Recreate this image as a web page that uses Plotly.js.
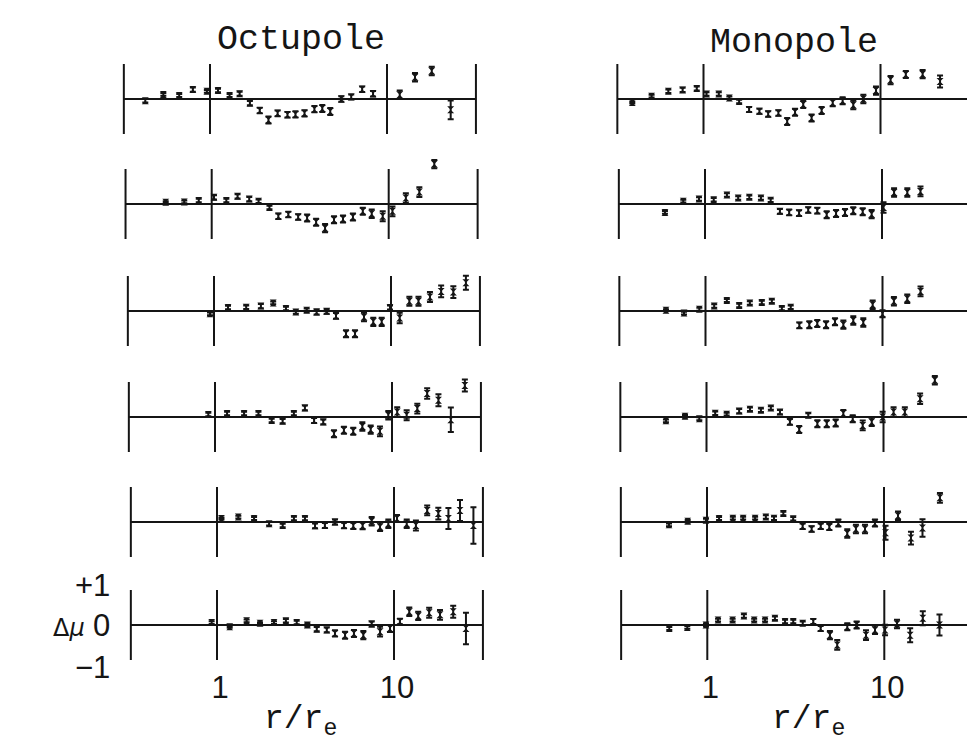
<!DOCTYPE html>
<html><head><meta charset="utf-8">
<script src="https://cdn.plot.ly/plotly-3.0.1.min.js"></script>
<style>html,body{margin:0;padding:0;background:#fff}</style>
</head><body><div id="chart" style="width:967px;height:744px"></div>
<script>
// ---------------- data (r/r_e , Δμ , error) ----------------
const oct1_r   = [0.431,0.545,0.67,0.80,0.96,1.11,1.29,1.47,1.68,1.91,2.14,2.41,2.74,3.04,3.42,3.89,4.31,4.78,5.52,6.28,7.24,8.34,11.8,14.4,17.9,22.9];
const oct1_dmu = [-0.05,0.13,0.1,0.27,0.22,0.24,0.1,0.15,-0.12,-0.33,-0.6,-0.41,-0.45,-0.44,-0.41,-0.29,-0.27,-0.36,0,0.06,0.28,0.15,0.12,0.62,0.8,-0.31];
const oct1_err = [0.05,0.04,0.04,0.06,0.04,0.05,0.04,0.06,0.06,0.08,0.1,0.08,0.08,0.09,0.09,0.09,0.1,0.1,0.08,0.07,0.08,0.08,0.12,0.12,0.12,0.27];

const oct2_r   = [0.55,0.70,0.845,1.03,1.21,1.40,1.63,1.84,2.12,2.38,2.71,3.08,3.46,3.89,4.37,4.91,5.52,6.28,7.14,8.02,9.25,10.5,12.5,14.9,18.1];
const oct2_dmu = [0.05,0.06,0.1,0.19,0.1,0.22,0.14,0.08,-0.1,-0.35,-0.3,-0.37,-0.4,-0.52,-0.69,-0.45,-0.43,-0.37,-0.21,-0.28,-0.35,-0.21,0.17,0.34,1.14];
const oct2_err = [0.03,0.04,0.05,0.06,0.05,0.06,0.06,0.05,0.05,0.08,0.08,0.08,0.1,0.1,0.12,0.1,0.1,0.1,0.1,0.12,0.14,0.14,0.14,0.14,0.12];

const oct3_r   = [0.949,1.20,1.52,1.84,2.16,2.55,2.90,3.34,3.80,4.33,4.89,5.57,6.26,7.04,7.94,8.86,9.87,11.2,12.7,14.3,16.6,19.2,22.5,26.5];
const oct3_dmu = [-0.08,0.1,0.11,0.14,0.23,0.07,-0.03,0.02,-0.03,-0.01,-0.14,-0.65,-0.65,-0.17,-0.31,-0.31,0.1,-0.2,0.28,0.28,0.4,0.56,0.54,0.81];
const oct3_err = [0.04,0.05,0.05,0.06,0.04,0.05,0.05,0.05,0.07,0.07,0.08,0.1,0.1,0.12,0.12,0.12,0.06,0.15,0.13,0.13,0.14,0.17,0.17,0.2];

const oct4_r   = [0.917,1.17,1.46,1.76,2.09,2.41,2.79,3.22,3.63,4.09,4.70,5.35,6.04,6.80,7.58,8.55,9.53,10.7,12.1,13.9,15.8,18.3,21.5,25.8];
const oct4_dmu = [0.07,0.1,0.1,0.1,-0.1,-0.12,0.1,0.26,-0.1,-0.14,-0.48,-0.38,-0.41,-0.27,-0.36,-0.41,0.05,0.14,0.05,0.24,0.67,0.48,-0.08,0.9];
const oct4_err = [0.05,0.05,0.05,0.05,0.05,0.06,0.05,0.07,0.07,0.07,0.1,0.1,0.1,0.12,0.12,0.14,0.12,0.14,0.14,0.14,0.15,0.17,0.35,0.17];

const oct5_r   = [1.06,1.32,1.62,1.97,2.35,2.72,3.14,3.58,4.07,4.64,5.22,5.89,6.65,7.48,8.34,9.29,10.4,11.8,13.3,15.4,17.8,20.3,23.6,28.1];
const oct5_dmu = [0.1,0.14,0.1,-0.05,-0.1,0.1,0.1,-0.11,-0.1,0,-0.1,-0.11,-0.11,0.02,-0.14,-0.05,0.1,-0.05,-0.1,0.33,0.24,0.1,0.33,-0.1];
const oct5_err = [0.03,0.04,0.04,0.05,0.05,0.05,0.05,0.07,0.07,0.07,0.08,0.09,0.1,0.12,0.12,0.12,0.1,0.12,0.14,0.14,0.17,0.3,0.3,0.52];

const oct6_r   = [0.933,1.18,1.47,1.75,2.10,2.45,2.82,3.24,3.66,4.17,4.64,5.29,5.94,6.71,7.48,8.34,9.49,10.8,12.2,13.7,15.8,18.2,21.6,25.5];
const oct6_dmu = [0.07,-0.05,0.12,0.05,0.07,0.12,0.07,0,-0.12,-0.14,-0.24,-0.29,-0.24,-0.29,0.03,-0.19,-0.1,0.1,0.38,0.26,0.35,0.29,0.38,-0.1];
const oct6_err = [0.04,0.03,0.04,0.03,0.04,0.05,0.05,0.05,0.06,0.07,0.09,0.1,0.1,0.12,0.07,0.14,0.1,0.08,0.12,0.12,0.14,0.14,0.17,0.45];

const mono1_r   = [0.396,0.509,0.633,0.762,0.916,1.04,1.22,1.40,1.59,1.81,2.07,2.32,2.65,2.97,3.29,3.66,4.08,4.65,5.37,6.11,7.02,8.0,9.43,11.4,13.9,17.3,21.7];
const mono1_dmu = [-0.1,0.08,0.22,0.26,0.3,0.14,0.14,0.03,-0.07,-0.3,-0.35,-0.43,-0.4,-0.64,-0.38,-0.16,-0.54,-0.33,-0.11,-0.05,-0.17,0,0.24,0.54,0.7,0.71,0.5];
const mono1_err = [0.03,0.04,0.05,0.06,0.06,0.05,0.05,0.04,0.05,0.07,0.07,0.08,0.08,0.1,0.1,0.1,0.1,0.1,0.1,0.1,0.12,0.12,0.12,0.12,0.1,0.12,0.17];

const mono2_r   = [0.594,0.754,0.925,1.12,1.33,1.54,1.78,2.07,2.35,2.65,2.99,3.40,3.83,4.31,4.87,5.50,6.18,6.88,7.78,8.74,10.2,11.7,13.9,16.5];
const mono2_dmu = [-0.24,0.08,0.14,0.12,0.26,0.17,0.19,0.17,0.11,-0.21,-0.24,-0.26,-0.17,-0.19,-0.31,-0.27,-0.24,-0.19,-0.22,-0.29,-0.1,0.33,0.33,0.36];
const mono2_err = [0.04,0.04,0.05,0.05,0.05,0.05,0.05,0.05,0.05,0.07,0.08,0.08,0.08,0.08,0.1,0.1,0.1,0.1,0.1,0.12,0.15,0.12,0.12,0.14];

const mono3_r   = [0.598,0.756,0.923,1.12,1.32,1.55,1.78,2.08,2.37,2.70,3.03,3.39,3.86,4.28,4.80,5.39,6.01,6.84,7.79,8.80,10.0,11.6,13.8,16.4];
const mono3_dmu = [0.02,-0.06,0.05,0.14,0.3,0.16,0.23,0.24,0.28,0.07,0.11,-0.41,-0.39,-0.36,-0.39,-0.31,-0.39,-0.27,-0.33,0.18,-0.08,0.28,0.35,0.56];
const mono3_err = [0.03,0.04,0.04,0.05,0.04,0.05,0.05,0.05,0.05,0.05,0.05,0.08,0.1,0.1,0.1,0.1,0.12,0.12,0.12,0.12,0.1,0.12,0.12,0.14];

const mono4_r   = [0.590,0.756,0.911,1.12,1.30,1.53,1.76,2.03,2.31,2.60,2.96,3.34,3.76,4.23,4.78,5.37,5.93,6.70,7.63,8.58,9.89,11.4,13.2,16.1,19.5];
const mono4_dmu = [-0.11,0.02,-0.05,0.11,0.08,0.17,0.22,0.19,0.26,0.14,-0.14,-0.36,0.05,-0.19,-0.19,-0.17,0.1,-0.05,-0.24,-0.14,0,0.14,0.14,0.52,1.05];
const mono4_err = [0.04,0.04,0.04,0.05,0.04,0.06,0.05,0.05,0.05,0.06,0.08,0.1,0.06,0.1,0.1,0.1,0.1,0.1,0.14,0.12,0.15,0.14,0.14,0.15,0.12];

const mono5_r   = [0.610,0.778,0.987,1.17,1.40,1.60,1.87,2.15,2.39,2.70,3.07,3.47,3.90,4.39,4.91,5.52,6.20,6.94,7.81,8.89,10.2,12.0,14.2,16.5,20.7];
const mono5_dmu = [-0.08,0.02,0.05,0.1,0.11,0.11,0.11,0.14,0.11,0.24,0.09,-0.12,-0.2,-0.12,-0.14,-0.03,-0.33,-0.2,-0.2,-0.03,-0.31,0.18,-0.46,-0.17,0.69];
const mono5_err = [0.04,0.04,0.04,0.04,0.04,0.04,0.04,0.05,0.05,0.05,0.05,0.08,0.08,0.08,0.09,0.1,0.12,0.12,0.12,0.1,0.2,0.12,0.18,0.25,0.14];

const mono6_r   = [0.610,0.771,0.983,1.15,1.39,1.61,1.84,2.12,2.41,2.75,3.06,3.46,3.97,4.37,4.93,5.42,6.18,6.98,7.88,8.86,10.1,11.8,14.0,16.5,20.5];
const mono6_dmu = [-0.1,-0.07,0,0.14,0.14,0.26,0.14,0.14,0.19,0.1,0.1,0.05,0.1,-0.1,-0.29,-0.57,-0.05,0,-0.29,-0.14,-0.14,0.03,-0.29,0.19,0];
const mono6_err = [0.04,0.04,0.04,0.04,0.04,0.05,0.04,0.04,0.05,0.05,0.05,0.05,0.07,0.07,0.12,0.14,0.1,0.1,0.14,0.12,0.15,0.12,0.2,0.2,0.3];

const columnTitles = ['Octupole', 'Monopole'];
const xTickVals = [1, 10];
const xTickText = ['1', '10'];
const yTickVals = [1, 0, -1];
const yTickText = ['+1', '0', '\u22121'];
const frameR = [1, 10];           // inner vertical rules at r/r_e = 1 and 10
const panelEdgeLo = 0.326;        // panel frame ends (r/r_e)
const panelEdgeHi = 31.8;
const xTitle = 'r/r<sub>e</sub>';
const yTitle = '\u0394<i>\u03bc</i>';

const panels = [
  [[oct1_r,oct1_dmu,oct1_err],[mono1_r,mono1_dmu,mono1_err]],
  [[oct2_r,oct2_dmu,oct2_err],[mono2_r,mono2_dmu,mono2_err]],
  [[oct3_r,oct3_dmu,oct3_err],[mono3_r,mono3_dmu,mono3_err]],
  [[oct4_r,oct4_dmu,oct4_err],[mono4_r,mono4_dmu,mono4_err]],
  [[oct5_r,oct5_dmu,oct5_err],[mono5_r,mono5_dmu,mono5_err]],
  [[oct6_r,oct6_dmu,oct6_err],[mono6_r,mono6_dmu,mono6_err]]
];

// ---------------- layout geometry (pixels) ----------------
const W = 967, H = 744;
const decadePx = 177;
const leftOrigin  = [210, 211.7, 214, 215, 217, 217];     // pixel of r=1 per row (scan skew)
const rightOrigin = [703.5, 705, 705.5, 706.5, 707, 707.3];
const rowCenter = [99, 204, 311, 417, 522, 625];
const halfRow = 52.5, yHalf = 1.5;
const lo = -0.5;

const ink = '#151515';
const mono = 'Liberation Mono, Courier New, monospace';
const sans = 'Liberation Sans, Arial, sans-serif';
const traces = [];
const layout = {
  width: W, height: H, margin: {l:0, r:0, t:0, b:0},
  paper_bgcolor: '#fff', plot_bgcolor: 'rgba(0,0,0,0)',
  showlegend: false, annotations: []
};

for (let row = 0; row < 6; row++) {
  for (let col = 0; col < 2; col++) {
    const idx = row*2 + col + 1;
    const xs = idx === 1 ? '' : String(idx);
    const [r, dmu, err] = panels[row][col];
    const o = col === 0 ? leftOrigin[row] : rightOrigin[row];
    const hi = col === 0 ? 1.52 : (W - o) / decadePx;
    const x0 = o + lo*decadePx, x1 = o + hi*decadePx;
    const c = rowCenter[row];
    const isBottom = row === 5;

    layout['xaxis'+xs] = {
      type: 'log', range: [lo, hi], domain: [x0/W, Math.min(1, x1/W)],
      anchor: 'y'+xs, showgrid: false, zeroline: false, showline: false,
      ticks: '', showticklabels: isBottom,
      tickmode: 'array', tickvals: xTickVals, ticktext: xTickText,
      tickfont: {family: sans, size: 31, color: ink},
      ticklabelstandoff: -12, ticklabelshift: 3,
      fixedrange: true
    };
    layout['yaxis'+xs] = {
      range: [-yHalf, yHalf],
      domain: [1-(c+halfRow)/H, 1-(c-halfRow)/H],
      anchor: 'x'+xs, showgrid: false, zeroline: false, showline: false,
      showticklabels: false, ticks: '', fixedrange: true
    };

    // frame: vertical rules and zero line
    const fx = [], fy = [];
    const verts = col === 0 ? [panelEdgeLo, frameR[0], frameR[1], panelEdgeHi] : [panelEdgeLo, frameR[0], frameR[1]];
    verts.forEach(v => { fx.push(v, v, null); fy.push(-1, 1, null); });
    fx.push(panelEdgeLo, col === 0 ? panelEdgeHi : 60); fy.push(0, 0);
    traces.push({
      x: fx, y: fy, xaxis: 'x'+xs, yaxis: 'y'+xs, mode: 'lines',
      line: {color: ink, width: 2}, hoverinfo: 'skip'
    });

    traces.push({
      x: r, y: dmu, xaxis: 'x'+xs, yaxis: 'y'+xs, mode: 'markers',
      marker: {symbol: 'hourglass', size: 7, color: ink},
      error_y: {type: 'data', array: err, visible: true, color: ink, thickness: 2, width: 3},
      cliponaxis: false, hoverinfo: 'x+y'
    });
  }
}

function ann(text, px, py, font, xanchor) {
  return {text: text, xref:'paper', yref:'paper', x: px/W, y: 1-py/H, showarrow:false,
          xanchor: xanchor || 'center', yanchor:'middle', font: font};
}
layout.annotations.push(
  ann(columnTitles[0], 301, 40, {family: mono, size: 35, color: ink}),
  ann(columnTitles[1], 794, 43, {family: mono, size: 35, color: ink}),
  ann(xTitle, 300, 721, {family: mono, size: 33, color: ink}),
  ann(xTitle, 808, 721, {family: mono, size: 33, color: ink}),
  ann(yTitle, 69, 628, {family: 'DejaVu Sans, sans-serif', size: 24, color: ink})
);
// y tick labels of the bottom-left panel
const yLabelOffset = [0.12, 0, -0.22];
yTickVals.forEach((v, i) => {
  layout.annotations.push({
    text: yTickText[i], xref:'paper', yref:'y11', x: 112/W, y: v + yLabelOffset[i],
    xanchor:'right', yanchor:'middle', showarrow:false,
    font:{family: sans, size: 31, color: ink}
  });
});

Plotly.newPlot('chart', traces, layout, {staticPlot: true, displayModeBar: false});
</script>
</body></html>
